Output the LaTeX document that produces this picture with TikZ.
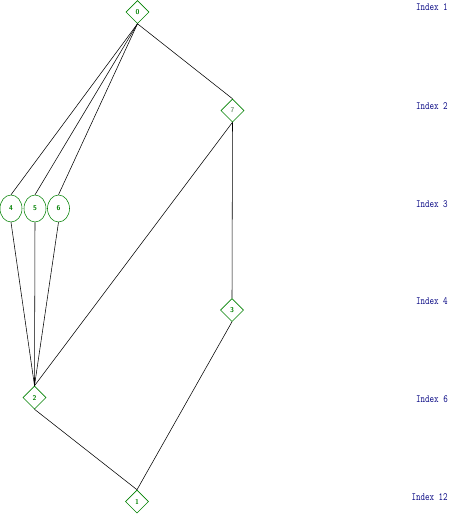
\documentclass[tikz,border=0pt]{standalone}
\usetikzlibrary{shapes.geometric}
\definecolor{nodegreen}{RGB}{0,128,0}
\definecolor{palegreen}{RGB}{130,160,130}
\definecolor{labelblue}{RGB}{0,0,128}
\begin{document}
\begin{tikzpicture}[x=1pt, y=-1pt, line width=0.55pt,
        elem/.style={diamond, draw=nodegreen, text=nodegreen, inner sep=0pt, minimum size=23pt,
            font=\fontsize{7}{7}\selectfont\sffamily\bfseries},
        gen/.style={ellipse, draw=nodegreen, text=nodegreen, inner sep=0pt, minimum width=22pt,
            minimum height=27pt, font=\fontsize{7}{7}\selectfont\sffamily\bfseries},
        lvl/.style={anchor=east, text=labelblue, inner sep=0pt, xscale=0.8,
            font=\fontsize{11}{11}\selectfont\ttfamily}]
        \useasboundingbox (0,0) rectangle (454,515);
        \node[elem] (n0) at (137.5,12) {0};
        \node[elem, text=palegreen] (n7) at (232.5,110.5) {7};
        \node[gen] (n4) at (11,208.5) {4};
        \node[gen] (n5) at (35,208.5) {5};
        \node[gen] (n6) at (58.5,208.5) {6};
        \node[elem] (n3) at (232,310) {3};
        \node[elem] (n2) at (34.5,397.5) {2};
        \node[elem] (n1) at (137,501.5) {1};
        \foreach \a/\b in {n0/n4, n0/n5, n0/n6, n0/n7, n7/n2, n7/n3, n4/n2, n5/n2, n6/n2, n3/n1, n2/n1}
            \draw (\a.south) -- (\b.north);
        \foreach \y/\i in {7/1, 106/2, 204/3, 301/4, 399/6, 497.5/12}
            \node[lvl] (idx\i) at (448,\y) {Index \i};
    \end{tikzpicture}
\end{document}
